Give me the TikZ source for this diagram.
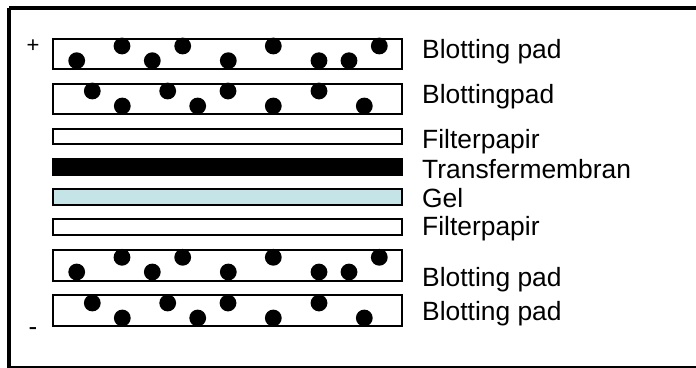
\documentclass[tikz,border=0pt]{standalone}
\usepackage{fontspec}
\setmainfont{Liberation Sans}
\definecolor{gelblue}{RGB}{197,228,231}
\begin{document}
\begin{tikzpicture}[x=1pt,y=-1pt,
  layer/.style={draw=black,line width=2pt,rectangle,inner sep=0pt,minimum width=349pt},
  pad/.style={layer,minimum height=30.5pt,fill=white},
  thin/.style={layer,minimum height=15.5pt},
  dot/.style={circle,fill=black,inner sep=0pt,minimum size=16.8pt},
  lab/.style={anchor=base west,inner sep=0pt,font=\fontsize{26.4}{29}\selectfont}]
\useasboundingbox (0,0) rectangle (696,367);
\begin{scope}
\clip (0,0) rectangle (696,367);
\draw[line width=3.5pt] (9,8) -- (800,8) (9,8) -- (9,367.5) (9,367.5) -- (800,367.5);
\end{scope}
% pads
\node[pad] (p1) at (227.5,53.85) {};
\node[pad] (p2) at (227.5,99.15) {};
\node[thin,fill=white] (f1) at (227.5,136.65) {};
\node[layer,minimum height=16pt,fill=black] (m) at (227.5,167) {};
\node[thin,fill=gelblue] (g) at (227.5,197.15) {};
\node[thin,fill=white] (f2) at (227.5,227.15) {};
\node[pad] (p3) at (227.5,265.35) {};
\node[pad] (p4) at (227.5,310.65) {};
% dots pattern A
\foreach \x/\d [count=\i] in {76.7/22,122/7.3,152.3/22,182.7/7.3,228.3/22,273.3/7.3,319/22,349/22,379.3/7.3}{
  \node[dot] (a\i) at (\x,38.7+\d) {};
  \node[dot] (c\i) at (\x,250+\d) {};
}
% dots pattern B
\foreach \x/\d [count=\i] in {92.3/7.7,122.3/22.7,167.7/7.7,197.7/22.7,228/7.7,273.3/22.7,319/7.7,364.3/22.7}{
  \node[dot] (b\i) at (\x,83.3+\d) {};
  \node[dot] (d\i) at (\x,295.3+\d) {};
}
% labels
\node[lab] (l1) at (422,58) {Blotting pad};
\node[lab] (l2) at (422,103) {Blottingpad};
\node[lab] (l3) at (422,148) {Filterpapir};
\node[lab] (l4) at (422,178) {Transfermembran};
\node[lab] (l5) at (422,207) {Gel};
\node[lab] (l6) at (422,235) {Filterpapir};
\node[lab] (l7) at (422,286) {Blotting pad};
\node[lab] (l8) at (422,320) {Blotting pad};
\node[font=\fontsize{22}{24}\selectfont,inner sep=0pt,anchor=base] (plus) at (33,52.3) {+};
\node[font=\fontsize{26}{28}\selectfont,inner sep=0pt,anchor=base] (minus) at (33,335) {-};
\end{tikzpicture}
\end{document}
